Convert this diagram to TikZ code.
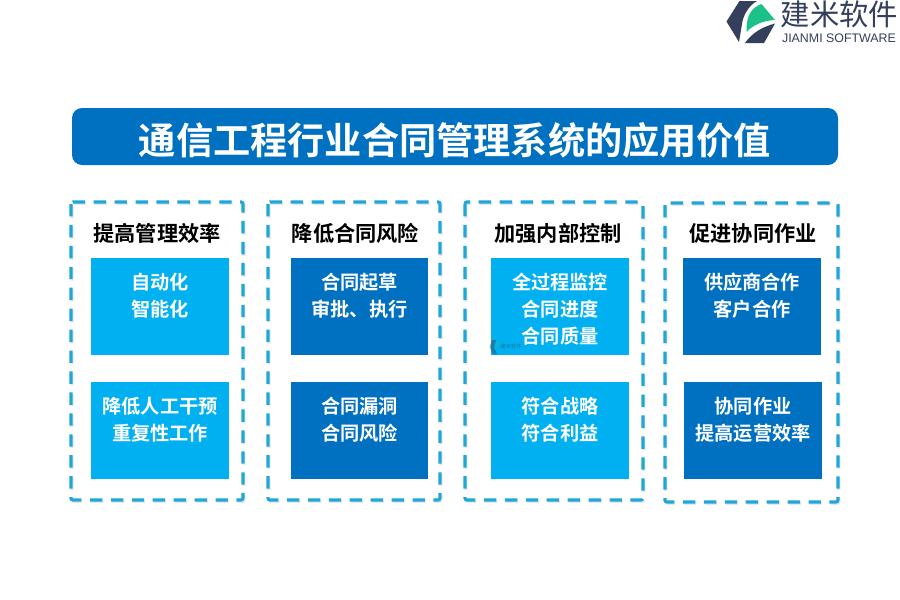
\documentclass[tikz,border=0pt]{standalone}
\usepackage{fontspec}
\setmainfont{Noto Sans CJK SC}[BoldFont={Noto Sans CJK SC Bold}]
\newfontfamily\latinlogo{Liberation Sans}
\definecolor{lightb}{HTML}{00B0F0}
\definecolor{darkb}{HTML}{0070C0}
\definecolor{dashb}{HTML}{1FA7D8}
\definecolor{logod}{HTML}{333F5C}
\definecolor{logog}{HTML}{1CC18A}
\tikzset{
  x=0.75pt,y=-0.75pt,
  titlebar/.style={fill=darkb,rounded corners=7.5pt,inner sep=0pt},
  titletext/.style={text=white,inner sep=0pt,font=\bfseries\fontsize{27.9}{30}\selectfont},
  frameline/.style={draw=dashb,line width=2.4pt,dash pattern=on 9.3pt off 6.4pt,rounded corners=1.5pt},
  frameshadow/.style={draw=black!9,line width=2.4pt,dash pattern=on 9.3pt off 6.4pt,rounded corners=1.5pt},
  heading/.style={text=black,inner sep=0pt,font=\bfseries\fontsize{15.9}{18}\selectfont},
  cardtext/.style={text=white,inner sep=0pt,align=center,font=\bfseries\fontsize{14.4}{20.3}\selectfont},
  lightcard/.style={fill=lightb},
  darkcard/.style={fill=darkb},
}
\newcommand{\card}[7]{% name, style, x0,y0,x1,y1, text
  \fill[#2] (#3,#4) rectangle (#5,#6);
  \node[cardtext,anchor=north] (#1) at ({(#3+#5)/2},{#4+15}) {#7};
}
\newcommand{\frm}[5]{%
  \draw[frameshadow] (#2+1,#3+1.5) rectangle (#4+1,#5+1.5);
  \draw[frameline] (#2,#3) rectangle (#4,#5);
  \coordinate (#1) at ({(#2+#4)/2},#3);
}
\begin{document}
\begin{tikzpicture}
\useasboundingbox (0,0) rectangle (900,600);
\fill[white] (0,0) rectangle (900,600);
% logo
\fill[logod] (739.5,1) -- (757,1) .. controls (748,6) and (743,16) .. (742,24) -- (739,42) -- (726.5,21.5) -- cycle;
\fill[logod] (745,43) .. controls (752,33) and (762,27) .. (775,23.5) -- (764,43) -- cycle;
\fill[logog] (746.5,32) .. controls (746,18) and (750,8) .. (761.5,4) -- (775,20) .. controls (763,20.5) and (753,25) .. cycle;
\node[anchor=center,inner sep=0pt,text=logod,font=\fontsize{22}{24}\selectfont] (logoname) at (839.5,14) {建米软件};
\node[anchor=center,inner sep=0pt,text=logod,font=\latinlogo\fontsize{9.3}{10}\selectfont] (logosub) at (839,38) {JIANMI SOFTWARE};
% title
\node[titlebar,minimum width=574.5pt,minimum height=42.75pt] (titlebg) at (455,136.5) {};
\node[titletext] (title) at (455,140.5) {通信工程行业合同管理系统的应用价值};
% frames
\frm{f1}{71}{202}{243}{500}
\frm{f2}{268}{202}{440}{500}
\frm{f3}{465}{202}{643}{500}
\frm{f4}{665}{203}{838}{502}
% headings
\node[heading] (h1) at (157,233) {提高管理效率};
\node[heading] (h2) at (355.5,233) {降低合同风险};
\node[heading] (h3) at (558,233) {加强内部控制};
\node[heading] (h4) at (753,233) {促进协同作业};
% cards
\card{c11}{lightcard}{91}{258}{229}{355}{自动化\\智能化}
\card{c12}{lightcard}{91}{382}{229}{479}{降低人工干预\\重复性工作}
\card{c21}{darkcard}{291}{258}{428}{355}{合同起草\\审批、执行}
\card{c22}{darkcard}{291}{382}{428}{479}{合同漏洞\\合同风险}
\card{c31}{lightcard}{491}{258}{629}{355}{全过程监控\\合同进度\\合同质量}
\card{c32}{lightcard}{491}{382}{629}{479}{符合战略\\符合利益}
\card{c41}{darkcard}{683}{258}{821}{355}{供应商合作\\客户合作}
\card{c42}{darkcard}{684}{382}{822}{479}{协同作业\\提高运营效率}
% watermark
\fill[logod,opacity=.45] (492,340) -- (496,340) -- (494,348) -- (497,354) -- (493,354) -- (489.5,347) -- cycle;
\fill[logog,opacity=.45] (494,346) .. controls (495,343) and (497,341) .. (498,341) -- (501,345) .. controls (498,345) and (496,346) .. cycle;
\node[inner sep=0pt,text=logod,opacity=.5,font=\fontsize{4}{5}\selectfont] (wm) at (511,346) {建米软件};
\end{tikzpicture}
\end{document}
